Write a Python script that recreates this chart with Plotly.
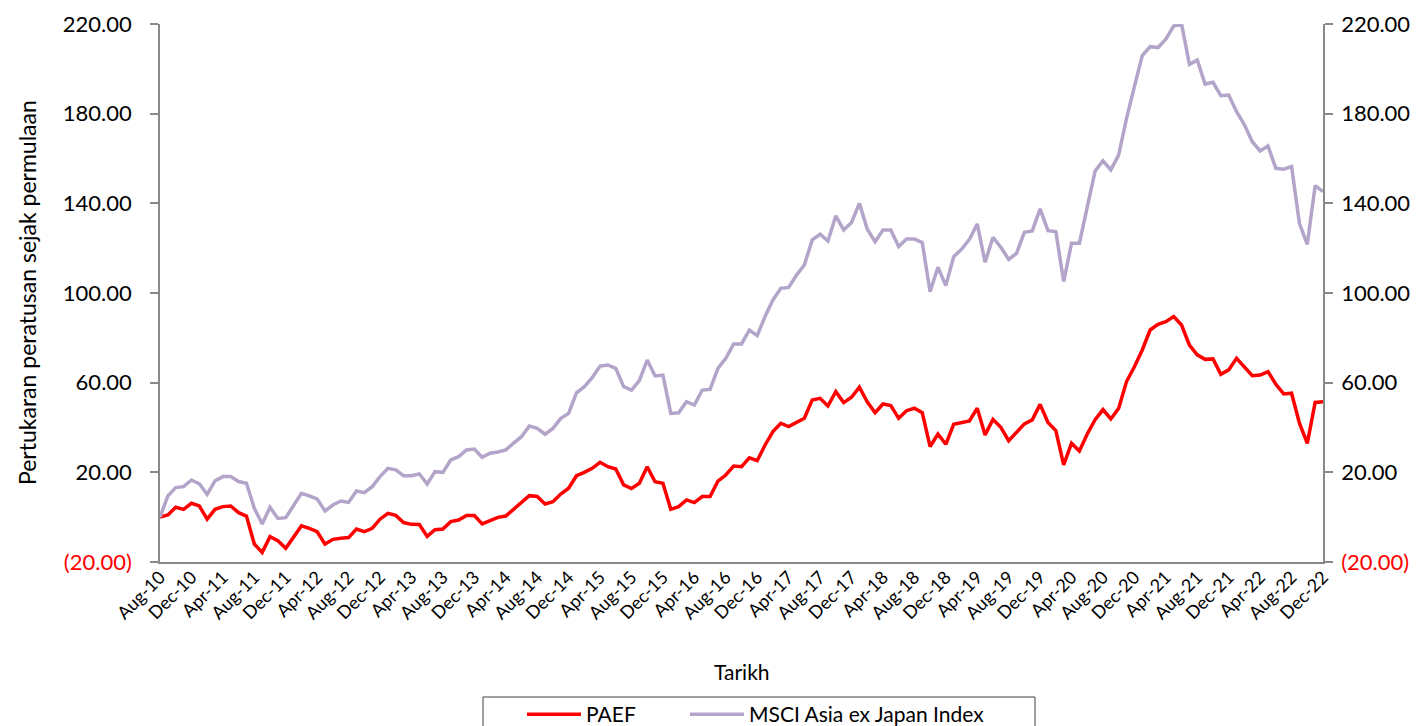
import plotly.graph_objects as go
import pandas as pd

# Categories: monthly from Aug-10 to Dec-22
months = pd.date_range("2010-08-01", "2022-12-01", freq="MS").strftime("%b-%y").tolist()

paef = [
    0.0, 1.0, 4.4, 3.5, 6.2, 5.0, -0.9, 3.5, 4.7, 5.0, 2.0, 0.5, -12.0, -15.7, -8.7, -10.5,
    -13.9, -8.7, -3.9, -5.0, -6.5, -12.0, -9.9, -9.4, -9.1, -5.3, -6.5, -5.0, -0.9, 1.7, 0.8,
    -2.4, -3.2, -3.3, -8.6, -5.6, -5.3, -2.0, -1.3, 0.7, 0.7, -3.0, -1.7, -0.1, 0.5, 3.5, 6.2,
    9.6, 9.2, 5.9, 6.9, 10.3, 12.9, 18.5, 20.0, 21.8, 24.5, 22.5, 21.5, 14.4, 12.8, 15.1, 22.5,
    15.8, 15.1, 3.5, 4.7, 7.7, 6.5, 9.2, 9.2, 16.1, 18.8, 22.8, 22.5, 26.5, 25.2, 32.2, 38.2,
    41.9, 40.4, 42.3, 44.1, 52.3, 53.0, 49.6, 56.0, 51.1, 53.5, 58.0, 51.5, 46.6, 50.5, 49.8,
    44.1, 47.5, 48.6, 46.6, 31.5, 37.1, 32.5, 41.4, 42.3, 42.9, 48.6, 36.7, 43.6, 40.1, 34.1,
    37.7, 41.6, 43.4, 50.3, 42.2, 38.6, 23.3, 33.0, 29.5, 37.1, 43.5, 48.0, 43.8, 48.6, 60.5,
    67.1, 74.6, 83.5, 86.0, 87.2, 89.5, 85.7, 76.8, 72.4, 70.4, 70.6, 63.7, 65.7, 70.9, 67.1,
    63.1, 63.4, 64.9, 59.3, 55.0, 55.3, 41.9, 32.9, 51.2, 51.5,
]

msci = [
    0.0, 9.5, 13.2, 13.6, 16.6, 14.9, 10.2, 16.2, 18.1, 18.1, 15.9, 15.1, 4.0, -3.0, 4.4, -0.6,
    -0.2, 5.4, 10.6, 9.5, 8.1, 2.8, 5.4, 7.2, 6.6, 11.7, 10.9, 13.6, 18.1, 21.8, 21.1,
    18.5, 18.5, 19.3, 14.8, 20.3, 20.0, 25.5, 27.0, 30.0, 30.4, 26.7, 28.5, 29.1, 30.0, 33.0, 35.9,
    40.7, 39.6, 37.0, 39.6, 44.1, 46.3, 55.5, 58.2, 62.2, 67.4, 67.9, 66.4, 58.2, 56.7, 60.9, 70.1,
    63.0, 63.4, 46.3, 46.6, 51.5, 50.0, 56.7, 57.0, 66.4, 70.9, 77.3, 77.3, 83.5, 81.0, 89.5, 96.9,
    102.1, 102.5, 108.0, 112.5, 123.7, 126.2, 123.2, 134.4, 128.1, 131.5, 140.0, 128.5, 122.9, 128.1, 128.1,
    120.7, 124.1, 124.1, 122.5, 100.6, 111.5, 103.3, 116.2, 119.5, 123.9, 130.8, 113.7, 124.8, 120.4, 115.0,
    117.7, 127.1, 127.7, 137.5, 127.8, 127.4, 105.1, 122.2, 122.2, 138.5, 154.4, 159.0, 154.9, 161.6, 177.9,
    192.1, 205.9, 209.9, 209.5, 213.2, 219.1, 220.0, 202.0, 203.9, 193.2, 194.0, 188.0, 188.3, 180.9, 175.0,
    167.5, 163.4, 165.6, 155.6, 155.2, 156.4, 131.1, 121.7, 147.9, 145.2,
]

y_ticks = [-20, 20, 60, 100, 140, 180, 220]
x_tick_labels = months[::4]


def fmt(v):
    if v < 0:
        return f'<span style="color:#FF0000">({abs(v):.2f})</span>'
    return f"{v:.2f}"


y_tick_text = [fmt(v) for v in y_ticks]

FONT = "Lato"
AXIS_COLOR = "#898989"

# plot area in pixels
PL, PR, PT, PB = 160, 1323, 24, 562
PW, PH = PR - PL, PB - PT


def px_x(p):
    return (p - PL) / PW


def px_y(p):
    return (PB - p) / PH


fig = go.Figure()
fig.add_trace(go.Scatter(
    x=months, y=paef, name="PAEF", mode="lines",
    line=dict(color="#FF0000", width=3.5), yaxis="y", legend="legend",
))
fig.add_trace(go.Scatter(
    x=months, y=msci, name="MSCI Asia ex Japan Index", mode="lines",
    line=dict(color="#B3A4CA", width=3.5), yaxis="y2", legend="legend2",
))

legend_common = dict(
    orientation="h", xanchor="left", yanchor="top",
    bgcolor="rgba(0,0,0,0)", borderwidth=0,
    font=dict(family=FONT, size=21, color="#000000"),
    itemwidth=54,
)

fig.update_layout(
    width=1418, height=726,
    margin=dict(l=PL, r=1418 - PR, t=PT, b=726 - PB, autoexpand=False),
    paper_bgcolor="white", plot_bgcolor="white",
    font=dict(family=FONT, color="#000000"),
    showlegend=True,
    legend=dict(x=px_x(522), y=px_y(694), **legend_common),
    legend2=dict(x=px_x(685), y=px_y(694), **legend_common),
    xaxis=dict(
        type="category", range=[0, len(months) - 1],
        tickmode="array", tickvals=x_tick_labels, ticktext=x_tick_labels,
        tickangle=-45, tickfont=dict(family=FONT, size=18, color="#000000"),
        showline=True, linecolor=AXIS_COLOR, linewidth=1.5,
        ticks="", ticklabelstandoff=-4,
        showgrid=False, zeroline=False, automargin=False,
    ),
    yaxis=dict(
        range=[-20, 220], tickmode="array", tickvals=y_ticks, ticktext=y_tick_text,
        tickfont=dict(family=FONT, size=22, color="#000000"),
        showline=True, linecolor=AXIS_COLOR, linewidth=1.5,
        ticks="outside", ticklen=8, tickcolor=AXIS_COLOR, tickwidth=1.5,
        ticklabelstandoff=14,
        showgrid=False, zeroline=False, automargin=False,
    ),
    yaxis2=dict(
        range=[-20, 220], tickmode="array", tickvals=y_ticks, ticktext=y_tick_text,
        tickfont=dict(family=FONT, size=22, color="#000000"),
        overlaying="y", side="right",
        showline=True, linecolor=AXIS_COLOR, linewidth=1.5,
        ticks="outside", ticklen=8, tickcolor=AXIS_COLOR, tickwidth=1.5,
        ticklabelstandoff=4,
        showgrid=False, zeroline=False, automargin=False,
    ),
    shapes=[
        dict(type="rect", xref="paper", yref="paper",
             x0=px_x(483), x1=px_x(1035), y0=px_y(697), y1=px_y(745),
             line=dict(color="#404040", width=1), fillcolor="rgba(0,0,0,0)", layer="below"),
    ],
    annotations=[
        dict(text="Tarikh", xref="paper", yref="paper", x=0.5, y=px_y(672),
             xanchor="center", yanchor="middle", showarrow=False,
             font=dict(family=FONT, size=21, color="#000000")),
        dict(text="Pertukaran peratusan sejak permulaan", xref="paper", yref="paper",
             x=px_x(27), y=0.5, xanchor="center", yanchor="middle",
             textangle=-90, showarrow=False,
             font=dict(family=FONT, size=23, color="#000000")),
    ],
)

fig.write_html(
    "out.html",
    config={"displayModeBar": False},
    post_script="document.body.style.margin='0px';document.body.style.padding='0px';",
)
